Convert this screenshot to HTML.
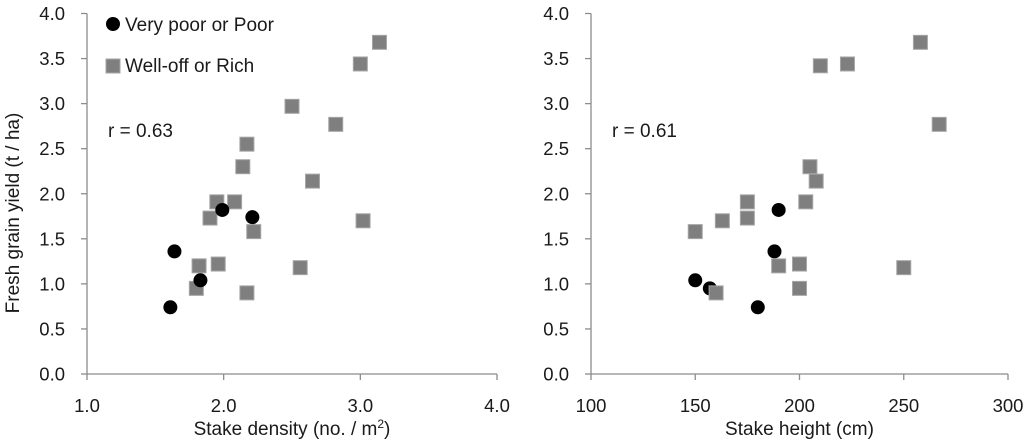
<!DOCTYPE html>
<html><head><meta charset="utf-8"><style>
body{margin:0;background:#fff;}
svg text{font-family:"Liberation Sans",sans-serif;fill:#1a1a1a;}
</style></head><body>
<svg id="c" width="1027" height="441"></svg>
<script>
const yTicks=[0,0.5,1.0,1.5,2.0,2.5,3.0,3.5,4.0];
const densityTicks=[1,2,3,4];
const heightTicks=[100,150,200,250,300];
const poorDensity=[1.61,1.64,1.83,1.99,2.21];
const poorDensityYield=[0.74,1.36,1.04,1.82,1.74];
const richDensity=[3.14,3.0,2.5,2.82,2.17,2.14,2.65,1.95,2.08,1.90,2.22,3.02,1.82,1.96,2.56,1.80,2.17];
const richDensityYield=[3.68,3.44,2.97,2.77,2.55,2.30,2.14,1.91,1.91,1.73,1.58,1.70,1.20,1.22,1.18,0.95,0.90];
const poorHeight=[150,157,180,188,190];
const poorHeightYield=[1.04,0.95,0.74,1.36,1.82];
const richHeight=[258,210,223,267,205,208,203,175,175,163,150,190,200,200,160,250];
const richHeightYield=[3.68,3.42,3.44,2.77,2.30,2.14,1.91,1.91,1.73,1.70,1.58,1.20,1.22,0.95,0.90,1.18];

const svg=document.getElementById('c');
const NS='http://www.w3.org/2000/svg';
function mk(t,a,p){const e=document.createElementNS(NS,t);for(const k in a)e.setAttribute(k,a[k]);(p||svg).appendChild(e);return e;}
const Y0=374,Y1=13.5;
const yS=v=>Y0+(Y1-Y0)*v/4;

function panel(name,x0,x1,xmin,xmax,xt,xTitle,px,py,rx,ry,rText,labelRight,circlesOnTop){
  const g=mk('g',{});
  
  
  const xS=v=>x0+(x1-x0)*(v-xmin)/(xmax-xmin);
  const ax=mk('path',{d:`M${x0} ${Y1}V${Y0}H${x1}`,stroke:'#8c8c8c','stroke-width':1.3,fill:'none'},g);
  
  
  yTicks.forEach(v=>{
    mk('line',{x1:x0-6,x2:x0,y1:yS(v),y2:yS(v),stroke:'#8c8c8c','stroke-width':1.3},g);
    const t=mk('text',{x:labelRight,y:yS(v)+6.5,'text-anchor':'end','font-size':18.5},g);
    t.textContent=v.toFixed(1);
    
    
  });
  xt.forEach(v=>{
    mk('line',{x1:xS(v),x2:xS(v),y1:Y0,y2:Y0+6,stroke:'#8c8c8c','stroke-width':1.3},g);
    const t=mk('text',{x:xS(v),y:412,'text-anchor':'middle','font-size':18.5},g);
    t.textContent=xmax>10?String(v):v.toFixed(1);
    
    
  });
  const tt=mk('text',{x:(x0+x1)/2,y:435,'text-anchor':'middle','font-size':19},g);
  tt.innerHTML=xTitle;
  
  
  const r=mk('text',{x:x0+21,y:137,'font-size':19},g);
  r.textContent=rText;
  
  
  function circles(){
    px.forEach((v,i)=>{
      const c=mk('circle',{cx:xS(v),cy:yS(py[i]),r:7,fill:'#000'},g);
      
      
    });
  }
  function squares(){
    rx.forEach((v,i)=>{
      const s=mk('rect',{x:xS(v)-7,y:yS(ry[i])-7,width:14,height:14,fill:'#7f7f7f',stroke:'#a6a6a6','stroke-width':1},g);
      
      
    });
  }
  if(circlesOnTop){squares();circles();}else{circles();squares();}
}
panel('density-panel',87,497,1,4,densityTicks,'Stake density (no. / m<tspan font-size="12" dy="-7">2</tspan><tspan dy="7">)</tspan>',poorDensity,poorDensityYield,richDensity,richDensityYield,'r = 0.63',65,true);
panel('height-panel',591,1008,100,300,heightTicks,'Stake height (cm)',poorHeight,poorHeightYield,richHeight,richHeightYield,'r = 0.61',569,false);

const yt=mk('text',{x:0,y:0,'text-anchor':'middle','font-size':19,transform:'translate(19,213) rotate(-90)'});
yt.textContent='Fresh grain yield (t / ha)';



const lg=mk('g',{});


const l1=mk('circle',{cx:113,cy:24,r:7,fill:'#000'},lg);


const t1=mk('text',{x:125,y:31,'font-size':19},lg);
t1.textContent='Very poor or Poor';


const l2=mk('rect',{x:106,y:59,width:14,height:14,fill:'#7f7f7f',stroke:'#a6a6a6'},lg);


const t2=mk('text',{x:125,y:72,'font-size':19},lg);
t2.textContent='Well-off or Rich';


</script>
</body></html>
